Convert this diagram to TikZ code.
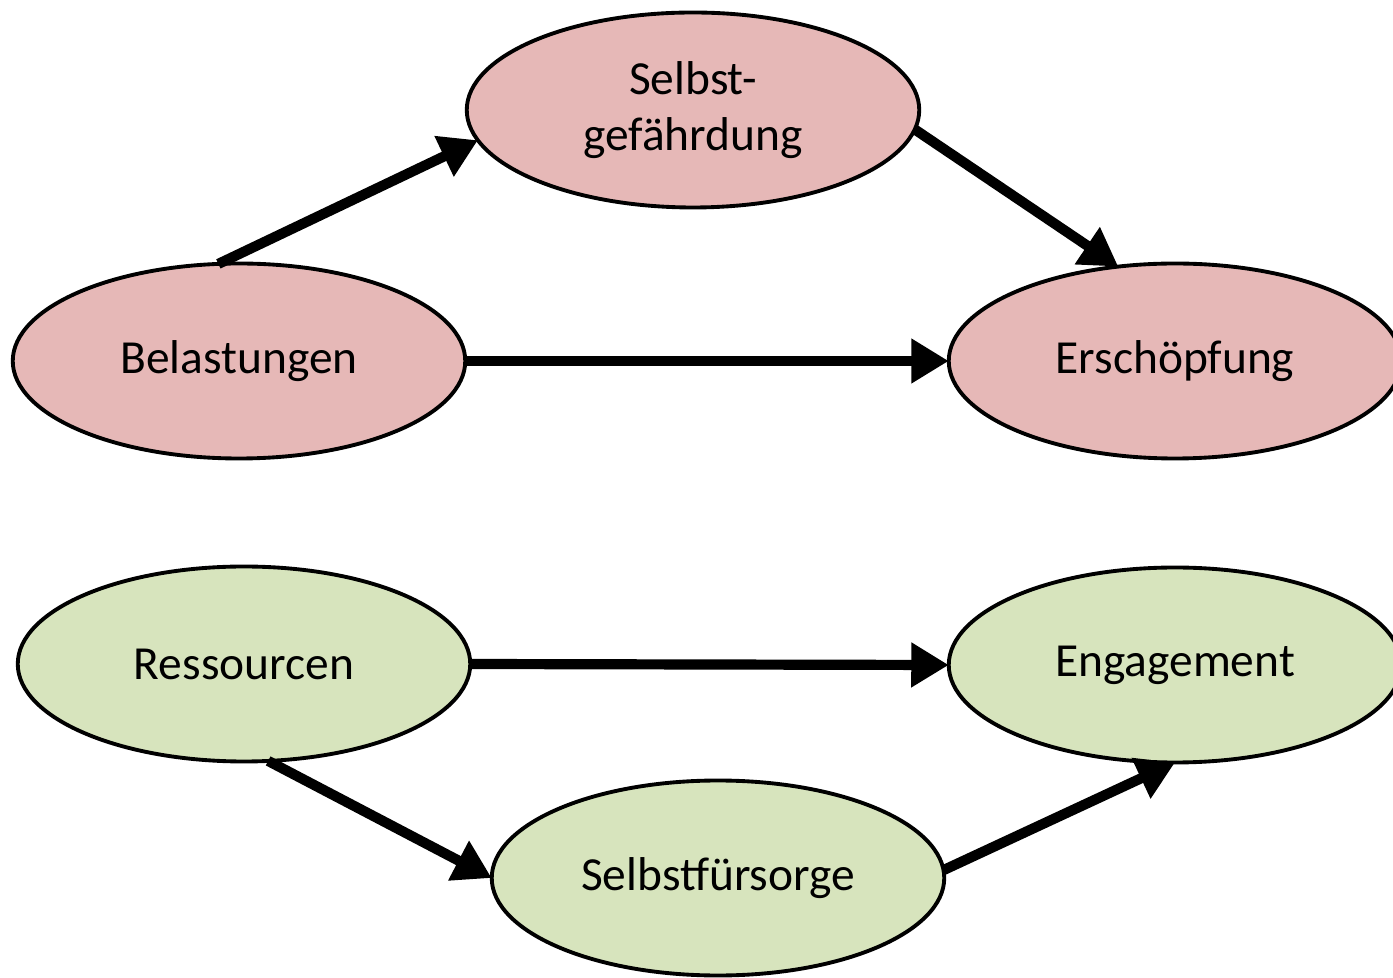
\documentclass[tikz,border=0pt]{standalone}
\usepackage{fontspec}
\setmainfont{Carlito}
\usetikzlibrary{shapes.geometric,arrows.meta}
\definecolor{rot}{RGB}{230,184,183}
\definecolor{gruen}{RGB}{215,228,189}
\begin{document}
\begin{tikzpicture}[
    oval/.style={ellipse, draw=black, line width=2.2pt, minimum width=9.05cm,
      minimum height=3.9cm, inner sep=0pt, outer sep=0pt, align=center,
      font=\fontsize{27}{32}\selectfont},
    pfeil/.style={line width=5.8pt, -{Triangle[length=0.75cm,width=0.85cm]}}]
  \useasboundingbox (0,0) rectangle (27.86,19.54);
  % obere Reihe
  \node[oval, fill=rot] (sg) at (13.86,17.34) {Selbst-\\gefährdung};
  \node[oval, fill=rot] (bel) at (4.78,12.32) {Belastungen};
  \node[oval, fill=rot] (ers) at (23.5,12.32) {Erschöpfung};
  % untere Reihe
  \node[oval, fill=gruen] (res) at (4.88,6.26) {Ressourcen};
  \node[oval, fill=gruen] (eng) at (23.5,6.24) {Engagement};
  \node[oval, fill=gruen] (sf) at (14.36,1.98) {Selbstfürsorge};
  \draw[pfeil] (bel.102) -- (sg.188);
  \draw[pfeil] (sg.355) -- (ers.121);
  \draw[pfeil] (bel.east) -- (ers.west);
  \draw[pfeil] (res.east) -- (eng.west);
  \draw[pfeil] (res.284) -- (sf.west);
  \draw[pfeil] (sf.2) -- (eng.270);
\end{tikzpicture}
\end{document}
